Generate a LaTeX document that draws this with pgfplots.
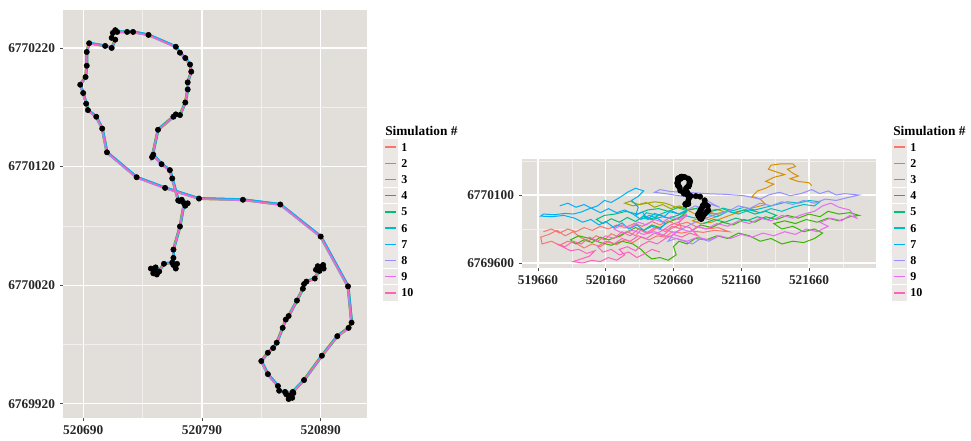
\documentclass[border=0pt]{standalone}
\usepackage{fontspec}
\setmainfont{Liberation Serif}
\usepackage{pgfplots}
\pgfplotsset{compat=1.18}
\usepackage{pgfplotstable}
\definecolor{panel}{RGB}{226,222,218}
\definecolor{keygrey}{RGB}{234,231,228}
\definecolor{c1}{HTML}{F8766D}
\definecolor{c2}{HTML}{D89000}
\definecolor{c3}{HTML}{A3A500}
\definecolor{c4}{HTML}{39B600}
\definecolor{c5}{HTML}{00BF7D}
\definecolor{c6}{HTML}{00BFC4}
\definecolor{c7}{HTML}{00B0F6}
\definecolor{c8}{HTML}{9590FF}
\definecolor{c9}{HTML}{E76BF3}
\definecolor{c10}{HTML}{FF62BC}
\def\dropone#1#2\relax{#2}
\def\droptwo#1#2#3\relax{#3}
\pgfplotstableread{
x y
520750.5 6770032
520747 6770034
520751 6770035
520754 6770031.5
520749 6770030
520752 6770029
520758 6770038
520765 6770039
520769 6770038
520768 6770034
520766 6770037
520766 6770043
520766 6770050
520771.5 6770069.5
520775 6770089
520771 6770091
520773 6770092
520778 6770089
520776 6770087
520770 6770091.5
520765 6770110
520763 6770117
520756 6770122
520749 6770130
520748 6770128
520753 6770151
520766 6770162
520768 6770164
520771.5 6770163.4
520776 6770174
520778 6770185
520778 6770191
520781 6770200
520780 6770206
520776 6770211.5
520771.5 6770216
520768 6770221
520745 6770231
520732 6770233.5
520727 6770233.5
520718.6 6770233.5
520717 6770235
520715 6770232.7
520714 6770228.5
520717 6770227
520714 6770220
520708.5 6770221.7
520695 6770224
520693 6770216.6
520693 6770205
520692 6770195.5
520687.5 6770189
520690 6770182
520692.5 6770173
520694 6770167.6
520701 6770162
520706 6770152
520710 6770132
520735 6770111
520759 6770102
520787.5 6770093
520824.5 6770092
520856 6770088
520890 6770061
520913 6770019
520916 6769988.4
520913.5 6769984
520904 6769977
520891 6769960.5
520876 6769940
520866.5 6769930
520864 6769927
520861 6769928
520866 6769925
520863 6769924
520867 6769929
520860 6769930
520855 6769931
520854 6769935
520845.5 6769945
520840 6769956
520845.5 6769963
520850 6769967
520853 6769971.5
520858 6769984
520860.6 6769991
520863 6769994
520870 6770007
520875 6770017
520876 6770021
520878 6770023
520885 6770025.6
520890 6770035
520887.5 6770036
520892.5 6770034
520889 6770032
520892 6770037
520886 6770033
}\track
\pgfplotstableread[row sep=\\]{x y\\
520750 6769960\\520700 6769900\\520720 6769850\\520650 6769870\\520600 6769830\\520540 6769860\\520480 6769820\\520420 6769845\\520380 6769800\\520320 6769830\\520260 6769790\\520200 6769815\\520150 6769770\\520090 6769800\\520030 6769760\\519970 6769790\\519920 6769830\\519860 6769800\\519800 6769840\\519740 6769810\\519680 6769790\\519690 6769740\\519760 6769760\\519820 6769730\\519880 6769760\\519950 6769740\\520000 6769710\\520060 6769740\\520120 6769720\\520180 6769760\\520240 6769735\\520300 6769770\\520360 6769750\\520420 6769790\\520480 6769770\\520540 6769800\\520600 6769790\\520650 6769830\\520720 6769820\\520800 6769835\\520880 6769825\\520960 6769840\\521070 6769830\\520990 6769860\\520900 6769850\\520820 6769870\\520760 6769900\\520690 6769880\\520620 6769910\\520560 6769880\\520500 6769905\\520430 6769870\\520370 6769890\\520300 6769860\\520240 6769880\\520180 6769850\\520120 6769870\\520060 6769840\\520000 6769860\\519940 6769830\\519880 6769850\\519820 6769820\\519760 6769850\\519700 6769830\\
}\wA
\pgfplotstableread[row sep=\\]{x y\\
520760 6769990\\520820 6769960\\520880 6769940\\520940 6769970\\521000 6769950\\520920 6769920\\520860 6769935\\520800 6769910\\520860 6769890\\520940 6769900\\521020 6769930\\521100 6769960\\521180 6769990\\521260 6770010\\521340 6770030\\521300 6770070\\521240 6770090\\521280 6770130\\521340 6770150\\521400 6770180\\521340 6770200\\521400 6770230\\521480 6770250\\521420 6770270\\521360 6770290\\521380 6770320\\521460 6770330\\521540 6770330\\521560 6770310\\521500 6770290\\521540 6770260\\521580 6770240\\521520 6770220\\521580 6770200\\521660 6770190\\521680 6770170\\
}\wB
\pgfplotstableread[row sep=\\]{x y\\
520760 6770000\\520700 6770020\\520640 6770000\\520580 6770030\\520520 6770010\\520460 6770045\\520400 6770030\\520340 6770055\\520300 6770040\\520360 6770020\\520440 6770035\\520520 6770050\\520600 6770040\\520680 6770010\\520740 6769990\\520820 6770000\\520900 6769980\\520980 6769995\\521040 6769975\\520960 6769960\\520880 6769975\\
}\wC
\pgfplotstableread[row sep=\\]{x y\\
520760 6769980\\520700 6769930\\520620 6769900\\520560 6769860\\520500 6769880\\520440 6769840\\520380 6769860\\520300 6769820\\520240 6769790\\520180 6769770\\520120 6769790\\520060 6769750\\520000 6769770\\519940 6769740\\519900 6769770\\519960 6769800\\520040 6769780\\520120 6769750\\520200 6769730\\520280 6769760\\520360 6769740\\520420 6769700\\520460 6769660\\520500 6769630\\520560 6769640\\520620 6769620\\520680 6769660\\520660 6769720\\520700 6769760\\520760 6769740\\520820 6769780\\520900 6769770\\520980 6769800\\521060 6769780\\521140 6769820\\521220 6769800\\521300 6769760\\521380 6769780\\521460 6769740\\521540 6769760\\521620 6769750\\521700 6769780\\521760 6769820\\521700 6769850\\521620 6769830\\521540 6769870\\521460 6769850\\521400 6769890\\521480 6769910\\521560 6769890\\521640 6769920\\521720 6769900\\521800 6769930\\521880 6769910\\521960 6769940\\522030 6769950\\521960 6769970\\521880 6769960\\521800 6769980\\521740 6769940\\521660 6769960\\521580 6769930\\521500 6769950\\521420 6769920\\521340 6769940\\521260 6769900\\521180 6769920\\521100 6769880\\521020 6769900\\520940 6769860\\520860 6769880\\520800 6769840\\
}\wD
\pgfplotstableread[row sep=\\]{x y\\
520760 6769980\\520690 6769950\\520620 6769930\\520560 6769955\\520500 6769925\\520440 6769945\\520380 6769905\\520320 6769935\\520260 6769900\\520200 6769925\\520140 6769890\\520090 6769920\\520150 6769950\\520230 6769960\\520310 6769980\\520390 6769960\\520470 6769990\\520550 6770000\\520620 6769980\\520700 6770010\\520780 6769990\\520860 6770010\\520940 6769980\\521020 6770000\\521100 6769970\\521180 6769990\\521260 6769960\\521340 6769980\\521420 6769950\\521360 6769920\\521280 6769940\\521200 6769910\\521120 6769930\\521040 6769900\\520960 6769920\\520880 6769890\\
}\wE
\pgfplotstableread[row sep=\\]{x y\\
520760 6769990\\520700 6769960\\520620 6769980\\520540 6769950\\520460 6769970\\520420 6769930\\520500 6769920\\520580 6769940\\520660 6769920\\520740 6769950\\520820 6769930\\520900 6769960\\520980 6769940\\521060 6769980\\521140 6769960\\521220 6769990\\521300 6769970\\521380 6770000\\521460 6769980\\521540 6770010\\521620 6770030\\521700 6770020\\521740 6770050\\521660 6770060\\521580 6770040\\521500 6770050\\521420 6770030\\521340 6770010\\521260 6769990\\521180 6770010\\521100 6769985\\521020 6770005\\
}\wF
\pgfplotstableread[row sep=\\]{x y\\
520760 6769990\\520700 6769960\\520640 6769985\\520590 6769940\\520520 6769965\\520470 6769920\\520430 6769975\\520380 6769950\\520400 6770010\\520350 6770060\\520400 6770090\\520440 6770130\\520380 6770150\\520320 6770120\\520260 6770080\\520200 6770045\\520150 6770060\\520100 6770020\\520040 6770000\\519980 6769975\\519920 6769960\\519860 6769965\\519780 6769955\\519700 6769960\\519680 6769945\\519760 6769940\\519850 6769950\\519930 6769930\\519990 6769900\\520050 6769920\\520110 6769880\\520160 6769905\\520220 6769860\\520280 6769895\\520330 6769850\\520390 6769880\\520440 6769840\\520500 6769870\\520560 6769850\\520600 6769890\\520540 6769930\\520480 6769950\\520420 6769920\\520360 6769960\\520300 6769990\\520240 6769970\\520180 6770000\\520120 6769970\\520060 6770000\\520000 6770030\\519940 6770010\\519880 6770040\\519820 6770020\\
}\wG
\pgfplotstableread[row sep=\\]{x y\\
520760 6769990\\520820 6770020\\520880 6770000\\520940 6770030\\521000 6770010\\520900 6770060\\520820 6770080\\520700 6770095\\520600 6770110\\520520 6770120\\520560 6770140\\520640 6770125\\520760 6770120\\520900 6770110\\521040 6770105\\521180 6770095\\521300 6770070\\521360 6770100\\521440 6770120\\521520 6770095\\521600 6770110\\521680 6770140\\521740 6770110\\521800 6770130\\521860 6770100\\521920 6770110\\522030 6770100\\521940 6770080\\521860 6770060\\521780 6770070\\521700 6770040\\521620 6770060\\521540 6770030\\521460 6770050\\521380 6770020\\521300 6770040\\521220 6770000\\521140 6770020\\521060 6769980\\520980 6769960\\520900 6769930\\520820 6769900\\520760 6769870\\520700 6769840\\520650 6769800\\520620 6769760\\520680 6769780\\520740 6769760\\520800 6769740\\520860 6769780\\520920 6769760\\520980 6769790\\
}\wH
\pgfplotstableread[row sep=\\]{x y\\
520760 6769960\\520700 6769920\\520640 6769940\\520580 6769900\\520520 6769920\\520460 6769880\\520400 6769900\\520340 6769860\\520280 6769880\\520220 6769850\\520280 6769820\\520360 6769840\\520440 6769810\\520520 6769830\\520600 6769800\\520680 6769780\\520760 6769760\\520840 6769790\\520920 6769770\\521000 6769800\\521080 6769780\\521160 6769810\\521240 6769790\\521320 6769820\\521400 6769800\\521480 6769830\\521560 6769810\\521640 6769850\\521720 6769830\\521800 6769870\\521740 6769900\\521820 6769930\\521900 6769910\\521960 6769950\\522010 6769930\\521960 6769990\\521880 6770010\\521820 6770040\\521760 6770020\\521700 6769980\\521620 6769960\\521540 6769930\\521460 6769950\\521380 6769910\\521300 6769930\\521220 6769890\\521140 6769910\\521060 6769870\\520980 6769890\\520900 6769850\\520840 6769870\\520780 6769830\\520720 6769850\\520660 6769820\\520600 6769850\\520540 6769820\\
}\wI
\pgfplotstableread[row sep=\\]{x y\\
520760 6769950\\520700 6769900\\520640 6769880\\520580 6769840\\520520 6769860\\520460 6769820\\520400 6769850\\520340 6769800\\520280 6769830\\520220 6769780\\520160 6769800\\520100 6769760\\520040 6769790\\519980 6769740\\519920 6769760\\519860 6769720\\519800 6769740\\519900 6769690\\519960 6769700\\520020 6769670\\520080 6769690\\520040 6769650\\519980 6769630\\519920 6769610\\519990 6769600\\520060 6769620\\520120 6769610\\520180 6769640\\520240 6769620\\520300 6769660\\520260 6769700\\520320 6769720\\520380 6769690\\520420 6769730\\520480 6769760\\520540 6769740\\520600 6769780\\520660 6769810\\520720 6769790\\520780 6769820\\520840 6769800\\520780 6769860\\520700 6769880\\520640 6769850\\520580 6769800\\520520 6769820\\520460 6769780\\520400 6769800\\520340 6769760\\520280 6769780\\520220 6769740\\520160 6769760\\520100 6769720\\520140 6769680\\520200 6769700\\520260 6769660\\520330 6769680\\520390 6769640\\520450 6769670\\520500 6769700\\520560 6769680\\
}\wJ
\pgfplotsset{
  ggstyle/.style={
    scale only axis, enlargelimits=false, clip=true,
    scaled ticks=false, tick pos=left,
    axis background/.style={fill=panel},
    axis line style={draw=none},
    x coord trafo/.code={\edef\pgfmathresult{\expandafter\dropone##1\relax}},
    y coord trafo/.code={\edef\pgfmathresult{\expandafter\droptwo##1\relax}},
    grid=both,
    major grid style={white, line width=0.9pt},
    minor grid style={white!55!panel, line width=0.45pt},
    tick align=outside, major tick length=2.5pt, minor tick length=0pt,
    tick style={black!70, line width=0.6pt},
    ticklabel style={font=\bfseries\fontsize{10}{12}\selectfont, text=black!85},
  }
}
\newcommand\simlegend[3]{% #1 key left (px), #2 label left (px), #3 title left (px)
  \begin{scope}[x=0.75pt, y=-0.75pt, yshift=330pt]
    \node[anchor=west, inner sep=0pt, font=\bfseries\fontsize{10}{12}\selectfont] at (#3,131) {Simulation \#};
    \foreach \i/\c in {1/c1,2/c2,3/c3,4/c4,5/c5,6/c6,7/c7,8/c8,9/c9,10/c10}{
      \fill[keygrey] (#1,{139+(\i-1)*16.2}) rectangle ({#1+15},{139+\i*16.2-0.4});
      \draw[\c, line width=1.1pt] ({#1+2},{139+(\i-0.5)*16.2}) -- ({#1+13},{139+(\i-0.5)*16.2});
      \node[anchor=west, inner sep=0pt, font=\bfseries\fontsize{9}{10}\selectfont] at (#2,{139+(\i-0.5)*16.2}) {\i};
    }
  \end{scope}}
\begin{document}
\begin{tikzpicture}
\path[use as bounding box] (0pt,0pt) rectangle (728.25pt,330pt);
\begin{axis}[ggstyle, at={(47.25pt,16.5pt)}, anchor=south west,
  width=228pt, height=306pt,
  xmin=520673, xmax=520929, ymin=6769908, ymax=6770252,
  xtick={520690,520790,520890}, xticklabels={520690,520790,520890},
  minor xtick={520740,520840},
  ytick={6769920,6770020,6770120,6770220},
  yticklabels={6769920,6770020,6770120,6770220},
  minor ytick={6769970,6770070,6770170}]
\addplot[c1, line width=0.7pt, xshift=0.7pt, yshift=0.3pt] table {\track};
\addplot[c2, line width=0.7pt, xshift=-0.6pt, yshift=0.6pt] table {\track};
\addplot[c3, line width=0.7pt, xshift=0.3pt, yshift=-0.7pt] table {\track};
\addplot[c4, line width=0.7pt, xshift=-0.7pt, yshift=-0.2pt] table {\track};
\addplot[c5, line width=0.7pt, xshift=0.8pt, yshift=-0.1pt] table {\track};
\addplot[c6, line width=0.7pt, xshift=-0.2pt, yshift=0.8pt] table {\track};
\addplot[c7, line width=0.7pt, xshift=0.5pt, yshift=0.6pt] table {\track};
\addplot[c8, line width=0.7pt, xshift=-0.5pt, yshift=-0.5pt] table {\track};
\addplot[c9, line width=0.7pt, xshift=0.2pt, yshift=-0.4pt] table {\track};
\addplot[c10, line width=0.7pt] table {\track};
\addplot[only marks, mark=*, mark size=2pt, black] table {\track};
\end{axis}
\simlegend{383}{401}{385}
\begin{axis}[ggstyle, at={(391.5pt,129pt)}, anchor=south west,
  width=265.5pt, height=81.75pt,
  xmin=519542, xmax=522154, ymin=6769563, ymax=6770365,
  xtick={519660,520160,520660,521160,521660},
  xticklabels={519660,520160,520660,521160,521660},
  minor xtick={519910,520410,520910,521410,521910},
  ytick={6769600,6770100}, yticklabels={6769600,6770100},
  minor ytick={6769850,6770350}]
\addplot[c1, line width=0.75pt] table {\wA};
\addplot[c2, line width=0.75pt] table {\wB};
\addplot[c3, line width=0.75pt] table {\wC};
\addplot[c4, line width=0.75pt] table {\wD};
\addplot[c5, line width=0.75pt] table {\wE};
\addplot[c6, line width=0.75pt] table {\wF};
\addplot[c7, line width=0.75pt] table {\wG};
\addplot[c8, line width=0.75pt] table {\wH};
\addplot[c9, line width=0.75pt] table {\wI};
\addplot[c10, line width=0.75pt] table {\wJ};
\addplot[only marks, mark=*, mark size=2pt, black] table {\track};
\end{axis}
\simlegend{892}{910}{893}
\end{tikzpicture}
\end{document}
